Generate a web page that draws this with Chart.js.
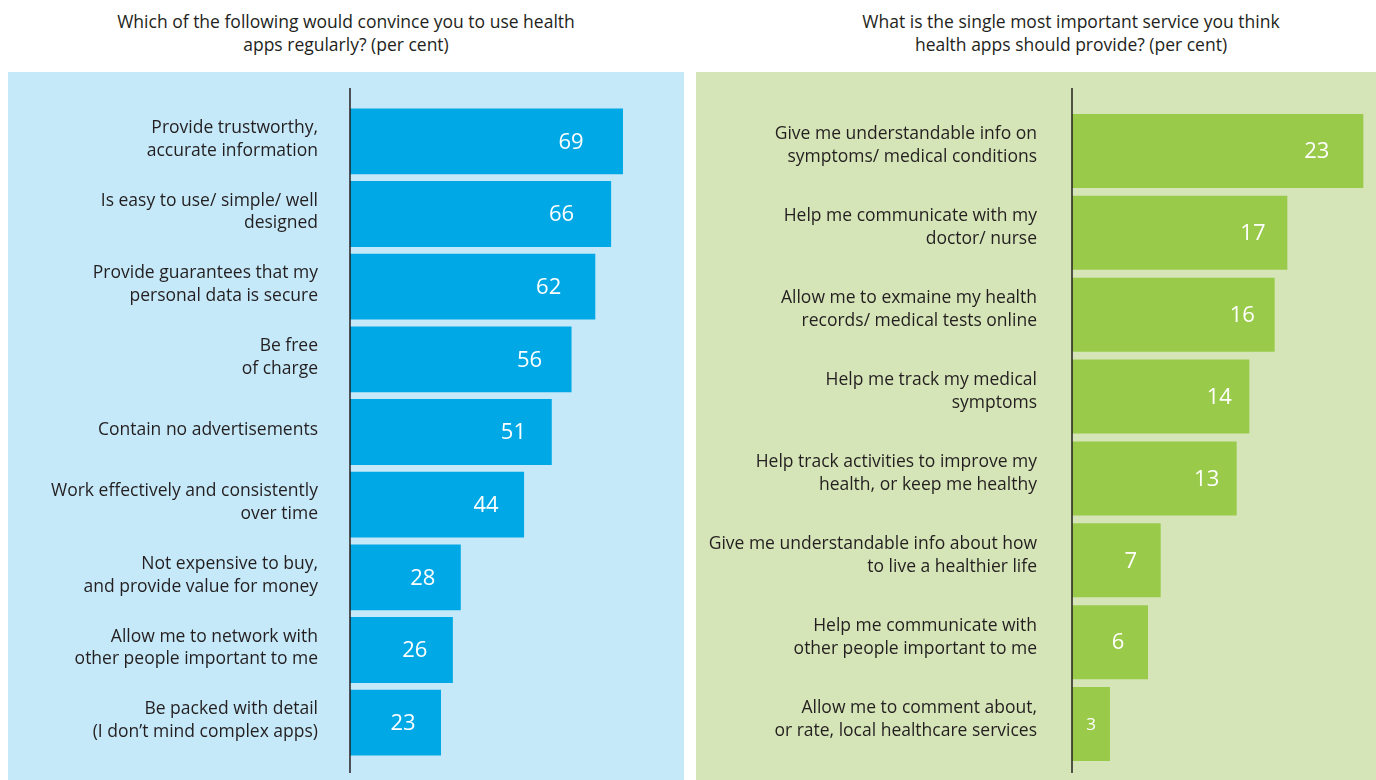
<!DOCTYPE html>
<html>
<head>
<meta charset="utf-8">
<script src="https://cdn.jsdelivr.net/npm/chart.js@4.4.0/dist/chart.umd.min.js"></script>
<style>
  body { margin: 0; width: 1376px; height: 780px; background: #fff; position: relative; overflow: hidden;
         font-family: "Open Sans", sans-serif; color: #231f20; }
  .title { position: absolute; top: 10px; width: 600px; text-align: center; font-size: 17.5px; line-height: 23px; }
  .panel { position: absolute; top: 72px; height: 708px; }
  #leftPanel { left: 8px; width: 676px; background: #c6e9f9; }
  #rightPanel { left: 696px; width: 680px; background: #d6e5b7; }
  canvas { display: block; }
</style>
</head>
<body>
<div class="title" style="left:46px">Which of the following would convince you to use health<br>apps regularly? (per cent)</div>
<div class="title" style="left:771px">What is the single most important service you think<br>health apps should provide? (per cent)</div>
<div class="panel" id="leftPanel"><canvas id="leftChart" width="676" height="708"></canvas></div>
<div class="panel" id="rightPanel"><canvas id="rightChart" width="680" height="708"></canvas></div>
<script>
// left chart: what would convince people
const convinceLabels = [
    ['Provide trustworthy,', 'accurate information'],
    ['Is easy to use/ simple/ well', 'designed'],
    ['Provide guarantees that my', 'personal data is secure'],
    ['Be free', 'of charge'],
    'Contain no advertisements',
    ['Work effectively and consistently', 'over time'],
    ['Not expensive to buy,', 'and provide value for money'],
    ['Allow me to network with', 'other people important to me'],
    ['Be packed with detail', '(I don\u2019t mind complex apps)']
];
const convinceValues = [69, 66, 62, 56, 51, 44, 28, 26, 23];

// right chart: most important service
const serviceLabels = [
    ['Give me understandable info on', 'symptoms/ medical conditions'],
    ['Help me communicate with my', 'doctor/ nurse'],
    ['Allow me to exmaine my health', 'records/ medical tests online'],
    ['Help me track my medical', 'symptoms'],
    ['Help track activities to improve my', 'health, or keep me healthy'],
    ['Give me understandable info about how', 'to live a healthier life'],
    ['Help me communicate with', 'other people important to me'],
    ['Allow me to comment about,', 'or rate, local healthcare services']
];
const serviceValues = [23, 17, 16, 14, 13, 7, 6, 3];

const barDecor = {
    id: 'barDecor',
    afterDatasetsDraw(chart, args, opts) {
        const ctx = chart.ctx;
        const area = chart.chartArea;
        const meta = chart.getDatasetMeta(0);
        const values = chart.data.datasets[0].data;
        ctx.save();
        // vertical axis line
        ctx.strokeStyle = '#231f20';
        ctx.lineWidth = 1.5;
        ctx.beginPath();
        ctx.moveTo(area.left, opts.lineTop);
        ctx.lineTo(area.left, chart.height - opts.lineBottom);
        ctx.stroke();
        // white value labels inside the bars
        ctx.fillStyle = '#fff';
        ctx.textAlign = 'center';
        ctx.textBaseline = 'middle';
        meta.data.forEach((bar, i) => {
            const w = bar.x - bar.base;
            const size = w < 50 ? 17 : 22;
            ctx.font = size + 'px "Open Sans"';
            let x = Math.min(bar.base + w * opts.frac, bar.x - opts.inset);
            x = Math.max(x, (bar.x + bar.base) / 2);
            ctx.fillText(values[i], x, bar.y + 1);
        });
        ctx.restore();
    }
};

const renderBars = (id, labels, data, cfg) => {
    const ctx = document.getElementById(id).getContext('2d');
    return new Chart(ctx, {
        type: 'bar',
        data: {
            labels: labels,
            datasets: [{
                data: data,
                backgroundColor: cfg.color,
                borderWidth: 0,
                categoryPercentage: 1,
                barPercentage: 0.905
            }]
        },
        options: {
            indexAxis: 'y',
            responsive: false,
            animation: false,
            layout: { padding: cfg.padding },
            scales: {
                x: { display: false, min: 0, max: cfg.max },
                y: {
                    afterFit: s => {
                        s.width = cfg.axisX;
                        s.paddingTop = 0;
                        s.paddingBottom = 0;
                    },
                    grid: { display: false, drawTicks: false },
                    border: { display: false },
                    ticks: {
                        color: '#231f20',
                        padding: cfg.labelGap,
                        labelOffset: cfg.labelShift,
                        font: { family: '"Open Sans"', size: 17.5, lineHeight: 1.31 }
                    }
                }
            },
            plugins: {
                legend: { display: false },
                tooltip: { enabled: false },
                barDecor: { lineTop: 16, lineBottom: 7, inset: cfg.inset, frac: cfg.frac }
            }
        },
        plugins: [barDecor]
    });
};

renderBars('leftChart', convinceLabels, convinceValues, {
    color: '#00a9e6', max: 80, axisX: 342, labelGap: 32, labelShift: -2,
    padding: { top: 33, bottom: 21, right: 17.5 }, inset: 38, frac: 0.81
});
renderBars('rightChart', serviceLabels, serviceValues, {
    color: '#99ca4a', max: 24, axisX: 376, labelGap: 35, labelShift: -5,
    padding: { top: 38, bottom: 15, right: 0 }, inset: 30, frac: 0.84
});
</script>
</body>
</html>
